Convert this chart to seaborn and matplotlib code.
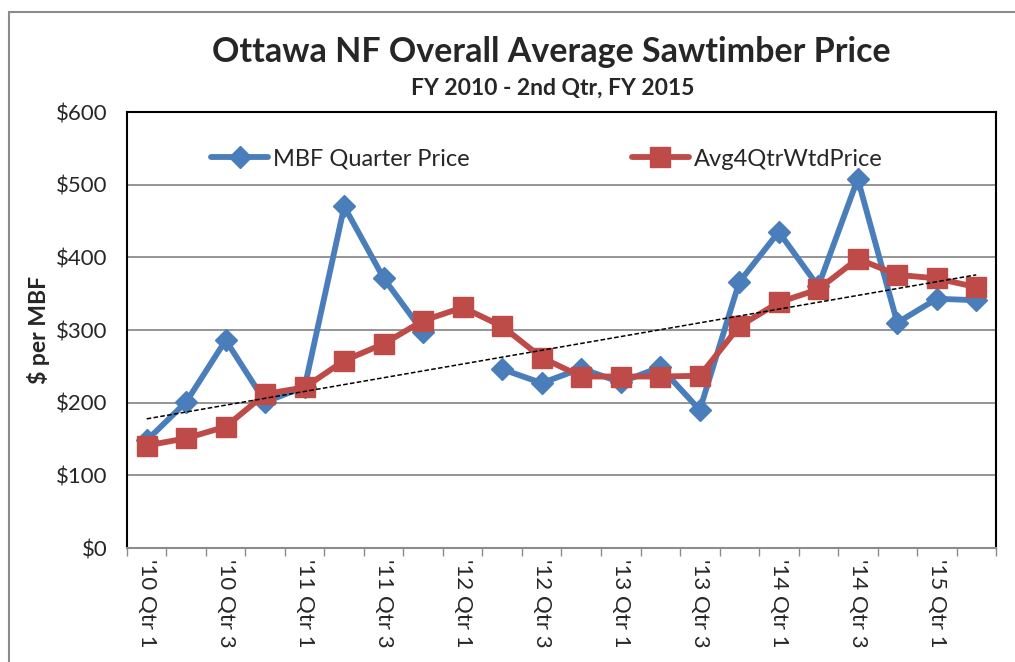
import numpy as np
import pandas as pd
import matplotlib
matplotlib.use("Agg")
import matplotlib.pyplot as plt
import seaborn as sns
from matplotlib.patches import Rectangle

# quarters '10 Qtr 1 .. '15 Qtr 2
quarters = [f"'{y} Qtr {q}" for y in range(10, 16) for q in range(1, 5)][:22]
mbf_price = [148, 201, 286, 201, 222, 470, 371, 297, np.nan, 246, 227,
             247, 228, 249, 190, 366, 435, 360, 508, 310, 343, 341]
avg4_price = [141, 151, 167, 212, 221, 258, 281, 313, 331, 305, 262,
              236, 236, 236, 237, 305, 338, 356, 398, 376, 371, 359]

df = pd.DataFrame({"quarter": quarters, "mbf": mbf_price, "avg": avg4_price})
df["x"] = np.arange(len(df))

sns.set_style("white")
plt.rcParams["font.family"] = ["Lato", "DejaVu Sans"]

fig = plt.figure(figsize=(10.15, 6.62), dpi=100)
ax = fig.add_axes([0.1251, 0.1722, 0.8562, 0.6586])

# outer chart-area border (cut off at right/bottom like the source)
fig.patches.append(Rectangle((9 / 1015, -0.1), 1.2, 1 - 12 / 662 + 0.1,
                             transform=fig.transFigure, fill=False,
                             edgecolor="#8c8c8c", linewidth=1.5, zorder=0))

blue = "#4a7ebb"
red = "#be4b48"

ax.plot(df["x"], df["mbf"], color=blue, lw=4.2, marker="D", ms=11,
        label="MBF Quarter Price", zorder=3)
ax.plot(df["x"], df["avg"], color=red, lw=4.2, marker="s", ms=14,
        label="Avg4QtrWtdPrice", zorder=4)

# linear trend on the 4-quarter weighted average
coef = np.polyfit(df["x"], df["avg"], 1)
ax.plot(df["x"], np.polyval(coef, df["x"]), color="black", lw=1.1,
        ls=(0, (3, 1.5)), zorder=5)

ax.set_xlim(-0.5, 21.5)
ax.set_ylim(0, 600)
ax.set_yticks(range(0, 601, 100))
ax.set_yticklabels([f"${v}" for v in range(0, 601, 100)], fontsize=16)
ax.yaxis.grid(True, color="#8c8c8c", lw=1.3)
ax.set_axisbelow(True)

ax.set_xticks(df["x"][::2])
ax.set_xticklabels(df["quarter"][::2], rotation=270, fontsize=16)
ax.set_xticks(np.arange(-0.5, 22, 1), minor=True)
ax.tick_params(axis="x", which="major", length=0, pad=8)
ax.tick_params(axis="x", which="minor", length=6, width=1, color="#8c8c8c", direction="out")
ax.tick_params(axis="y", length=0, pad=14)
ax.xaxis.set_tick_params(which="minor", bottom=True)

for s in ax.spines.values():
    s.set_color("black")
    s.set_linewidth(1.5)
ax.spines["bottom"].set_color("#8c8c8c")

ax.set_ylabel("$ per MBF", fontsize=16.5, fontweight="bold", labelpad=4)

leg = ax.legend(loc="upper center", bbox_to_anchor=(0.483, 0.965), ncol=2, frameon=False,
                fontsize=17, columnspacing=6.9, handlelength=2.4, handletextpad=0.2)

fig.text(0.5434, 0.921, "Ottawa NF Overall Average Sawtimber Price",
         ha="center", va="center", fontsize=24.5, fontweight="bold")
fig.text(0.545, 0.867, "FY 2010 - 2nd Qtr, FY 2015",
         ha="center", va="center", fontsize=16.5, fontweight="bold")

fig.savefig("out.png", dpi=100)
